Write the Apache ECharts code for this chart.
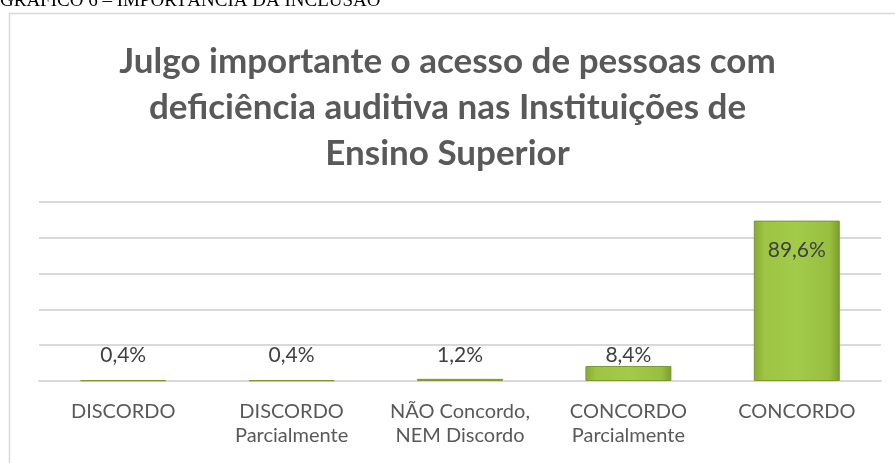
<!DOCTYPE html>
<html>
<head>
<meta charset="utf-8">
<script src="https://cdn.jsdelivr.net/npm/echarts@6/dist/echarts.min.js"></script>
<style>
  html, body { margin: 0; padding: 0; background: #fff; }
  #grafico { width: 895px; height: 463px; }
</style>
</head>
<body>
<div id="grafico"></div>
<script>
// dados do gráfico
var categorias = ['DISCORDO', 'DISCORDO\nParcialmente', 'NÃO Concordo,\nNEM Discordo', 'CONCORDO\nParcialmente', 'CONCORDO'];
var valores = [0.4, 0.4, 1.2, 8.4, 89.6];
var rotulos = ['0,4%', '0,4%', '1,2%', '8,4%', '89,6%'];
var titulo = 'Julgo importante o acesso de pessoas com\ndeficiência auditiva nas Instituições de\nEnsino Superior';
var legenda = 'GRÁFICO 6 – IMPORTÂNCIA DA INCLUSÃO';

var verde = new echarts.graphic.LinearGradient(0, 0, 1, 0, [
  { offset: 0, color: '#86aa34' },
  { offset: 0.12, color: '#9dc443' },
  { offset: 0.5, color: '#a3cb4a' },
  { offset: 0.88, color: '#98bf40' },
  { offset: 1, color: '#7c9d2e' }
]);

// afastamento dos rótulos (Excel alinha os rótulos das barras baixas)
var afastamento = [14, 14, 13, 0];

var dadosBarras = valores.map(function (v, i) {
  var item = { value: v };
  if (i === valores.length - 1) {
    item.label = { position: 'insideTop', distance: 19 };
  } else {
    item.label = { distance: afastamento[i] };
  }
  return item;
});

var option = {
  animation: false,
  title: {
    text: titulo,
    left: 'center',
    top: 34,
    textStyle: {
      color: '#595959',
      fontFamily: 'Lato',
      fontWeight: 'bold',
      fontSize: 35,
      lineHeight: 46
    }
  },
  graphic: [
    {
      type: 'rect',
      shape: { x: 9.5, y: 13.5, width: 900, height: 460 },
      style: { fill: 'none', stroke: '#d9d9d9', lineWidth: 1.5 }
    },
    {
      type: 'text',
      left: 0,
      top: -8,
      style: {
        text: legenda,
        font: '19px "Liberation Serif"',
        fill: '#000'
      }
    }
  ],
  grid: {
    left: 39,
    right: 14,
    top: 202,
    bottom: 82
  },
  xAxis: {
    type: 'category',
    data: categorias,
    axisLine: { lineStyle: { color: '#d9d9d9', width: 2 } },
    axisTick: { show: false },
    axisLabel: {
      color: '#595959',
      fontFamily: 'Lato',
      fontSize: 20,
      lineHeight: 24,
      margin: 19,
      interval: 0
    }
  },
  yAxis: {
    type: 'value',
    min: 0,
    max: 100,
    interval: 20,
    axisLabel: { show: false },
    axisLine: { show: false },
    axisTick: { show: false },
    splitLine: { lineStyle: { color: '#d9d9d9', width: 2 } }
  },
  series: [
    {
      type: 'bar',
      data: dadosBarras,
      barWidth: 86,
      itemStyle: {
        color: verde,
        borderColor: '#7a9a2e',
        borderWidth: 1
      },
      label: {
        show: true,
        position: 'top',
        color: '#404040',
        fontFamily: 'Lato',
        fontSize: 21,
        formatter: function (p) { return rotulos[p.dataIndex]; }
      }
    }
  ]
};

var grafico = echarts.init(document.getElementById('grafico'));
grafico.setOption(option);
</script>
</body>
</html>
